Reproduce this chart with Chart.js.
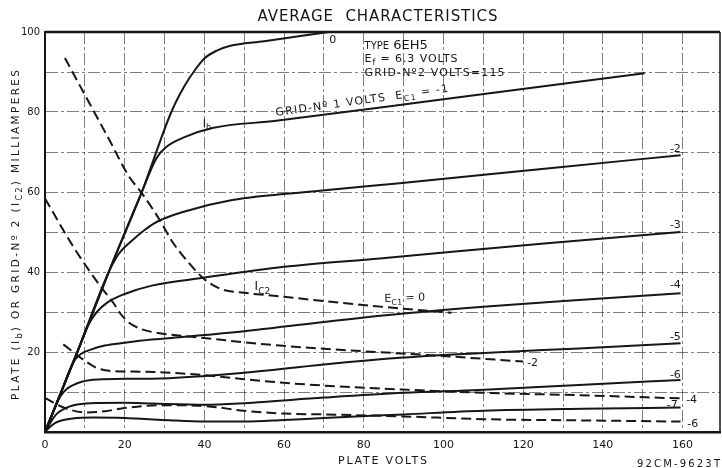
<!DOCTYPE html>
<html>
<head>
<meta charset="utf-8">
<script src="https://cdn.jsdelivr.net/npm/chart.js@4/dist/chart.umd.min.js"></script>
<style>
  html, body { margin: 0; padding: 0; background: #fff; }
  #chart { display: block; }
</style>
</head>
<body>
<canvas id="chart" width="722" height="468"></canvas>
<script>
// -- DATA (plate volts / milliamperes) -- //
const xTickLabels = [0, 20, 40, 60, 80, 100, 120, 140, 160];
const yTickLabels = [20, 40, 60, 80, 100];

// plate current Ib, grid-1 volts Ec1 = 0 ... -7
const ibEc0V  = [0, 8, 16, 24.3, 31.7, 35, 38, 40, 43, 46.3, 55, 71.3];
const ibEc0mA = [0, 19.7, 40, 60, 80, 86.5, 91, 93.4, 95.3, 96.5, 97.7, 100];

const ibEc1V  = [0, 8, 16, 24.3, 28, 30.5, 35, 42, 58, 100, 150.5];
const ibEc1mA = [0, 19.7, 40, 60, 68.5, 71.3, 73.7, 76, 77.8, 83.2, 89.7];

const ibEc2V  = [0, 8, 16, 18.5, 22, 25, 28, 34.6, 47, 69, 89, 126, 159.5];
const ibEc2mA = [0, 19.7, 40, 44.5, 48, 50.5, 52.5, 55, 58, 60.3, 62.2, 65.9, 69.2];

const ibEc3V  = [0, 8, 11, 13, 15.7, 20, 26.8, 40, 60, 84, 126, 159.5];
const ibEc3mA = [0, 19.7, 27, 30, 32.4, 34.5, 36.6, 38.6, 41.3, 43.4, 47.2, 50];

const ibEc4V  = [0, 4, 7.2, 9, 11.5, 15, 20, 26.8, 35, 50, 70, 90, 110, 134, 159.5];
const ibEc4mA = [0, 9.9, 17.6, 19.5, 20.6, 21.6, 22.3, 23.1, 23.8, 25.2, 27.5, 29.6, 31.3, 33, 34.7];

const ibEc5V  = [0, 3.8, 5.5, 7.2, 9, 11.5, 15, 20, 27, 40, 50, 70, 90, 109, 134, 159.5];
const ibEc5mA = [0, 8.8, 10.8, 11.8, 12.5, 13, 13.2, 13.3, 13.3, 14, 14.8, 16.9, 18.6, 19.7, 20.9, 22.2];

const ibEc6V  = [0, 1.5, 3, 5, 7.2, 11.5, 20, 27, 40, 50, 70, 90, 109, 134, 159.5];
const ibEc6mA = [0, 2.6, 4.6, 5.9, 6.7, 7.2, 7.3, 7.1, 6.8, 7.2, 8.6, 9.8, 10.5, 11.75, 13];

const ibEc7V  = [0, 1.5, 3, 7, 12, 20, 30, 40, 50, 60, 70, 90, 110, 135, 159.5];
const ibEc7mA = [0, 1.5, 2.5, 3.4, 3.6, 3.5, 3.0, 2.6, 2.6, 3.0, 3.5, 4.4, 5.3, 5.8, 6.1];

// screen-grid current Ic2, Ec1 = 0, -2, -4, -6
const ic2Ec0V  = [5, 10, 16, 21, 24.3, 28.8, 32, 36, 40, 44, 50, 58, 70, 90, 102];
const ic2Ec0mA = [93.5, 84.3, 73.3, 64, 59.7, 53, 47.5, 42.4, 38.2, 35.8, 34.8, 34, 32.75, 30.8, 29.8];

const ic2Ec2V  = [0, 7, 14, 17, 19, 21, 24, 28, 35, 42, 50, 70, 90, 100, 110, 120];
const ic2Ec2mA = [58.4, 46.5, 36.3, 32.5, 29.5, 27.4, 25.8, 24.8, 24, 23.3, 22.4, 20.8, 19.6, 19.0, 18.3, 17.6];

const ic2Ec4V  = [4.6, 9.6, 13, 17, 22, 30, 40, 50, 60, 70, 90, 110, 134, 159.5];
const ic2Ec4mA = [21.9, 18.1, 16, 15.2, 15.1, 14.9, 14.2, 13.2, 12.3, 11.6, 10.6, 9.8, 9.2, 8.4];

const ic2Ec6V  = [0, 5, 10, 15, 20, 30, 40, 50, 60, 70, 90, 110, 135, 159.5];
const ic2Ec6mA = [8.5, 6, 4.9, 5.2, 6, 6.7, 6.5, 5.3, 4.6, 4.4, 3.9, 3.2, 2.9, 2.6];

// -- STYLE -- //
const INK = '#161616';
const FONT = '"DejaVu Sans", sans-serif';
const GRID = 'rgba(0,0,0,0.5)';

function pts(xs, ys) {
    return xs.map((x, k) => ({ x: x, y: ys[k] }));
}

function curve(xs, ys, dashed) {
    return {
        data: pts(xs, ys),
        borderColor: INK,
        borderWidth: 2,
        borderDash: dashed ? [10, 5] : [],
        pointRadius: 0,
        fill: false,
        cubicInterpolationMode: 'monotone'
    };
}

// draw a run of text pieces, ['text', 'sub'] for subscripts
function drawRuns(ctx, runs, x, y, o) {
    const size = o.size;
    const fontOf = r => (r[1] === 'sub' ? Math.round(size * 0.75) : size) + 'px ' + FONT;
    ctx.save();
    ctx.translate(x, y);
    if (o.angle) ctx.rotate(o.angle * Math.PI / 180);
    ctx.fillStyle = INK;
    ctx.textBaseline = 'alphabetic';
    ctx.textAlign = 'left';
    let nat = 0, n = 0;
    runs.forEach(r => {
        ctx.font = fontOf(r);
        ctx.letterSpacing = '0px';
        nat += ctx.measureText(r[0]).width;
        n += r[0].length;
    });
    let sp = o.spacing || 0;
    if (o.width) sp = (o.width - nat) / Math.max(1, n - 1);
    const total = nat + sp * (n - 1);
    let cx = 0;
    if (o.align === 'center') cx = -total / 2;
    else if (o.align === 'right') cx = -total;
    runs.forEach(r => {
        ctx.font = fontOf(r);
        ctx.letterSpacing = '0px';
        const w = ctx.measureText(r[0]).width;
        ctx.letterSpacing = sp + 'px';
        const dy = r[1] === 'sub' ? size * 0.3 : 0;
        ctx.fillText(r[0], cx, dy);
        cx += w + sp * r[0].length;
    });
    ctx.restore();
}

// labels placed in data units (plate volts, mA)
const curveLabels = [
    { runs: [['0']], v: 72.2, i: 97.2, size: 11, align: 'center' },
    { runs: [['I'], ['b', 'sub']], v: 39.6, i: 76.3, size: 11 },
    { runs: [['GRID-Nº 1 VOLTS  E'], ['C1', 'sub'], [' = -1']], v: 58, i: 79, size: 11, angle: -8, width: 174 },
    { runs: [['-2']], v: 158.2, i: 70, size: 11, align: 'center' },
    { runs: [['-3']], v: 158.2, i: 51, size: 11, align: 'center' },
    { runs: [['-4']], v: 158.2, i: 36, size: 11, align: 'center' },
    { runs: [['-5']], v: 158.2, i: 23, size: 11, align: 'center' },
    { runs: [['-6']], v: 158.2, i: 13.5, size: 11, align: 'center' },
    { runs: [['-7']], v: 157.4, i: 6, size: 11, align: 'center' },
    { runs: [['-4']], v: 160.9, i: 7.25, size: 11 },
    { runs: [['-6']], v: 161.2, i: 1.25, size: 11 },
    { runs: [['-2']], v: 121, i: 16.5, size: 11 },
    { runs: [['I'], ['C2', 'sub']], v: 52.6, i: 35.5, size: 12 },
    { runs: [['E'], ['C1', 'sub'], [' = 0']], v: 85.2, i: 32.5, size: 11, angle: -2 },
    { runs: [['TYPE ']], v: 80.2, i: 95.75, size: 10 },
    { runs: [['E'], ['f', 'sub'], [' = 6.3 VOLTS']], v: 80.2, i: 92.5, size: 11, width: 93 },
    { runs: [['GRID-Nº2 VOLTS=115']], v: 80.2, i: 89, size: 11, width: 140 }
];

const textPlugin = {
    id: 'sheetText',
    beforeDatasetsDraw(chart) {
        const ctx = chart.ctx, a = chart.chartArea;
        ctx.save();
        ctx.strokeStyle = INK;
        ctx.lineWidth = 2.5;
        ctx.beginPath();
        ctx.moveTo(a.left, a.top);
        ctx.lineTo(a.right, a.top);
        ctx.stroke();
        ctx.lineWidth = 1.5;
        ctx.beginPath();
        ctx.moveTo(a.right, a.top);
        ctx.lineTo(a.right, a.bottom);
        ctx.stroke();
        ctx.restore();
    },
    afterDraw(chart) {
        const ctx = chart.ctx;
        const xs = chart.scales.x, ys = chart.scales.y;
        curveLabels.forEach(l => {
            drawRuns(ctx, l.runs, xs.getPixelForValue(l.v), ys.getPixelForValue(l.i),
                { size: l.size, align: l.align, angle: l.angle, width: l.width });
        });
        // "6EH5" follows "TYPE " in a larger size
        ctx.save();
        ctx.font = '10px ' + FONT;
        const tw = ctx.measureText('TYPE ').width;
        ctx.restore();
        drawRuns(ctx, [['6EH5']], xs.getPixelForValue(80.2) + tw + 1, ys.getPixelForValue(95.75), { size: 13 });

        const mid = (chart.chartArea.left + chart.chartArea.right) / 2;
        drawRuns(ctx, [['AVERAGE  CHARACTERISTICS']], mid - 5, 21, { size: 15, align: 'center', width: 240 });
        drawRuns(ctx, [['PLATE VOLTS']], mid, 464, { size: 11, align: 'center', width: 89 });
        drawRuns(ctx, [['92CM-9623T']], 720, 467, { size: 10, align: 'right', width: 83 });
        drawRuns(ctx, [['PLATE (I'], ['b', 'sub'], [') OR GRID-Nº 2 (I'], ['C2', 'sub'], [') MILLIAMPERES']],
            19, 235, { size: 10.5, align: 'center', angle: -90, width: 330 });
    }
};

const chart = new Chart(document.getElementById('chart'), {
    type: 'line',
    data: {
        datasets: [
            curve(ibEc0V, ibEc0mA), curve(ibEc1V, ibEc1mA), curve(ibEc2V, ibEc2mA),
            curve(ibEc3V, ibEc3mA), curve(ibEc4V, ibEc4mA), curve(ibEc5V, ibEc5mA),
            curve(ibEc6V, ibEc6mA), curve(ibEc7V, ibEc7mA),
            curve(ic2Ec0V, ic2Ec0mA, true), curve(ic2Ec2V, ic2Ec2mA, true),
            curve(ic2Ec4V, ic2Ec4mA, true), curve(ic2Ec6V, ic2Ec6mA, true)
        ]
    },
    options: {
        responsive: false,
        animation: false,
        devicePixelRatio: 1,
        layout: { padding: { top: 32, right: 2, left: 0, bottom: 0 } },
        plugins: { legend: { display: false }, tooltip: { enabled: false }, title: { display: false } },
        scales: {
            x: {
                type: 'linear', min: 0, max: 169.4,
                afterFit: s => { s.height = 36; },
                grid: { color: GRID, lineWidth: 1, drawTicks: false },
                border: { display: true, color: INK, width: 2.5, dash: [12, 3, 3, 3] },
                ticks: {
                    stepSize: 10, includeBounds: false, autoSkip: false, maxRotation: 0, padding: 7,
                    color: INK, font: { family: FONT, size: 11 },
                    callback: v => (xTickLabels.includes(v) ? String(v) : '')
                }
            },
            y: {
                type: 'linear', min: 0, max: 100,
                afterFit: s => { s.width = 45; },
                grid: { color: GRID, lineWidth: 1, drawTicks: false },
                border: { display: true, color: INK, width: 2, dash: [12, 3, 3, 3] },
                ticks: {
                    stepSize: 10, autoSkip: false, padding: 5,
                    color: INK, font: { family: FONT, size: 10 },
                    callback: v => (yTickLabels.includes(v) ? String(v) : '')
                }
            }
        }
    },
    plugins: [textPlugin]
});
</script>
</body>
</html>
